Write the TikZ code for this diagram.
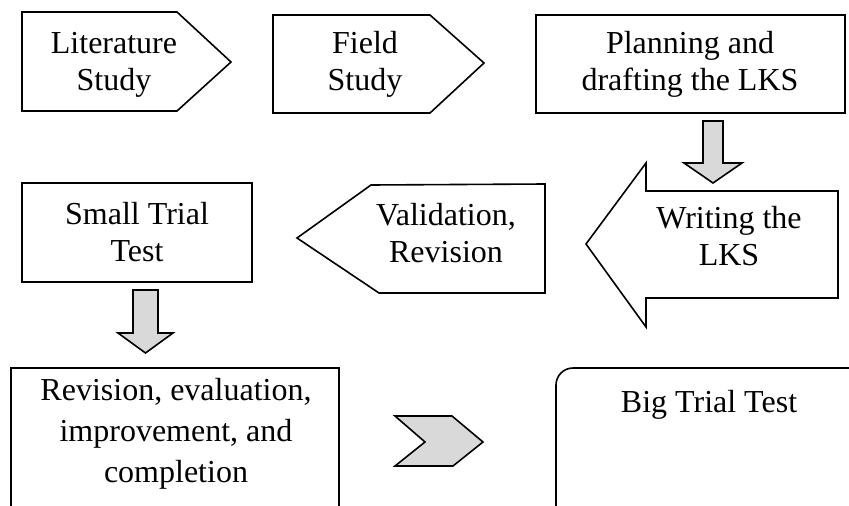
\documentclass[tikz,border=0pt]{standalone}
\usepackage{fontspec}
\setmainfont{Liberation Serif}
\definecolor{arrowgray}{RGB}{217,217,217}
\begin{document}
\begin{tikzpicture}[x=1pt,y=-1pt,
  outline/.style={draw=black,line width=1.6pt,line join=miter},
  blockarrow/.style={draw=black,line width=1.6pt,fill=arrowgray,line join=miter},
  label/.style={font=\fontsize{32}{37}\selectfont,align=center,inner sep=0pt,anchor=base}]
\useasboundingbox (0,0) rectangle (849,506);
\clip (0,0) rectangle (849,506);
% Literature Study
\draw[outline] (22,12) -- (177,12) -- (231,62) -- (177,111) -- (22,111) -- cycle;
\node[label] (lit) at (114,90) {Literature\\Study};
% Field Study
\draw[outline] (273,15) -- (430,15) -- (484,63) -- (430,113) -- (273,113) -- cycle;
\node[label] (field) at (365,90) {Field\\Study};
% Planning
\draw[outline] (536,15) rectangle (845,113);
\node[label] (plan) at (690,90) {Planning and\\drafting the LKS};
% down arrow 1
\draw[blockarrow] (703,121) -- (723,121) -- (723,163) -- (742,163) -- (713,183) -- (684,163) -- (703,163) -- cycle;
% Writing the LKS
\draw[outline] (838,191) -- (646,191) -- (646,163) -- (586,244) -- (646,327) -- (646,298) -- (838,298) -- cycle;
\node[label] (write) at (729,265) {Writing the\\LKS};
% Validation
\draw[outline] (545,184) -- (371,185) -- (297,238) -- (379,293) -- (545,293) -- cycle;
\node[label] (valid) at (446,262) {Validation,\\Revision};
% Small trial
\draw[outline] (22,183) rectangle (252,282);
\node[label] (small) at (137,261) {Small Trial\\Test};
% down arrow 2
\draw[blockarrow] (133,290) -- (158,290) -- (158,333) -- (173,333) -- (145.5,353) -- (118,333) -- (133,333) -- cycle;
% Revision box
\draw[outline] (11,520) -- (11,368) -- (339,368) -- (339,520);
\node[label,font=\fontsize{32}{41}\selectfont] (rev) at (176,482) {Revision, evaluation,\\improvement, and\\completion};
% chevron
\draw[blockarrow] (395,416) -- (452,416) -- (483,442) -- (453,466) -- (395,466) -- (425,442) -- cycle;
% Big trial
\draw[outline,rounded corners=17pt] (556,368) rectangle (880,525);
\node[label] (big) at (709,412) {Big Trial Test};
\end{tikzpicture}
\end{document}
